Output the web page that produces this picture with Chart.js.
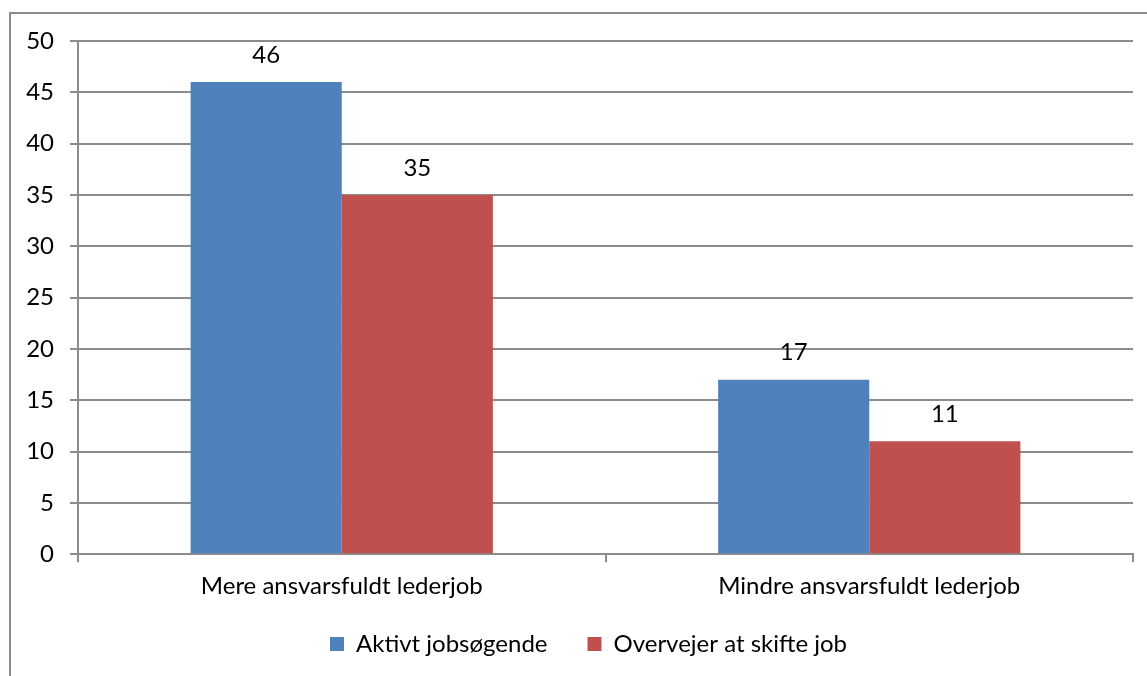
<!DOCTYPE html><html lang="da">
<head>
  <meta charset="UTF-8" />
  <title>Lederjob</title>
  <script src="https://cdn.jsdelivr.net/npm/chart.js"></script>
  <style>
    body { margin: 0; background: #fff; overflow: hidden; }
    .frame { position: absolute; left: 9px; top: 12px; width: 1160px; height: 700px; border: 2px solid #8c8c8c; box-sizing: border-box; }
    .wrap { position: absolute; left: 0; top: 0; width: 1147px; height: 676px; }
  </style>
</head>
<body>
  <div class="frame"></div>
  <div class="wrap"><canvas id="chart" width="1147" height="676"></canvas></div>
  <script>
const categories = ["Mere ansvarsfuldt lederjob", "Mindre ansvarsfuldt lederjob"];
const aktivt = [46, 17];
const overvejer = [35, 11];
const seriesNames = ["Aktivt jobsøgende", "Overvejer at skifte job"];

const FONT = "Lato, 'Open Sans', sans-serif";
const SIZE = 24;
Chart.defaults.font.family = FONT;
Chart.defaults.color = "#000";

// value labels above each bar
const barValues = {
  id: "barValues",
  afterDatasetsDraw(chart) {
    const ctx = chart.ctx;
    ctx.save();
    ctx.font = SIZE + "px " + FONT;
    ctx.fillStyle = "#000";
    ctx.textAlign = "center";
    ctx.textBaseline = "middle";
    chart.data.datasets.forEach((ds, i) => {
      chart.getDatasetMeta(i).data.forEach((bar, j) => {
        ctx.fillText(ds.data[j], bar.x, bar.y - 27);
      });
    });
    ctx.restore();
  }
};

new Chart(document.getElementById("chart"), {
  type: "bar",
  data: {
    labels: categories,
    datasets: [
      { label: seriesNames[0], data: aktivt, backgroundColor: "#4f81bd" },
      { label: seriesNames[1], data: overvejer, backgroundColor: "#c0504d" }
    ]
  },
  options: {
    responsive: false,
    animation: false,
    categoryPercentage: 0.573,
    barPercentage: 1,
    layout: { padding: { left: 44, right: 14, top: 41, bottom: 10 } },
    plugins: {
      tooltip: { enabled: false },
      legend: {
        position: "bottom",
        labels: { boxWidth: 14, boxHeight: 14, padding: 40, font: { size: SIZE } }
      }
    },
    scales: {
      x: {
        grid: { offset: true, drawOnChartArea: false, color: "#8c8c8c", lineWidth: 2, tickLength: 8 },
        border: { color: "#8c8c8c", width: 2 },
        ticks: { font: { size: SIZE }, padding: 10 },
        // let the legend sit closer to the category labels; don't clip descenders
        afterFit(scale) {
          scale.height -= 19;
          scale._computeLabelArea = () => undefined;
        }
      },
      y: {
        min: 0, max: 50,
        ticks: { stepSize: 5, font: { size: SIZE }, padding: 16 },
        grid: { color: "#8c8c8c", lineWidth: 2, tickLength: 8 },
        border: { color: "#8c8c8c", width: 2 },
        afterFit(scale) {
          scale.width = 34;
          scale._computeLabelArea = () => undefined;
        }
      }
    }
  },
  plugins: [barValues]
});
  </script>
</body>
</html>
